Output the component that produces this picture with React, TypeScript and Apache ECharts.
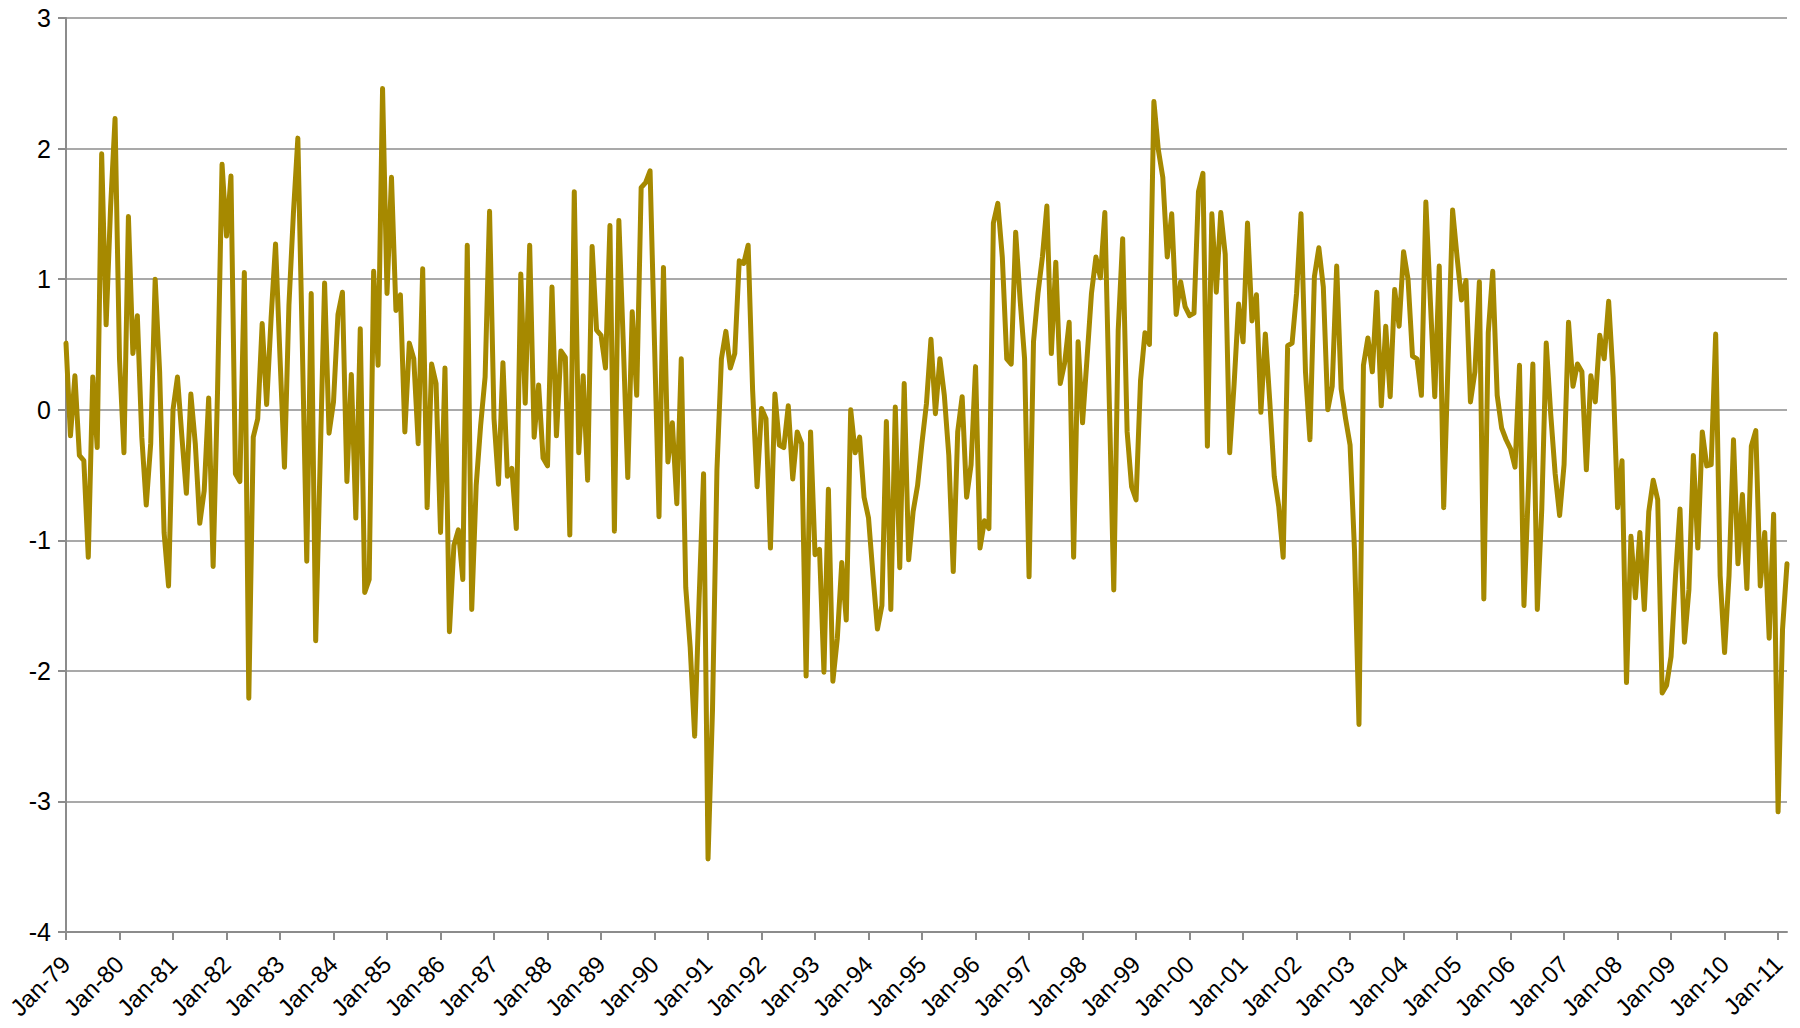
import React, { useEffect, useRef } from "react";
import * as echarts from "echarts";

const MONTHS = ["Jan", "Feb", "Mar", "Apr", "May", "Jun", "Jul", "Aug", "Sep", "Oct", "Nov", "Dec"];
const START_YEAR = 1979;
const Y_TICKS = [-4, -3, -2, -1, 0, 1, 2, 3];

// Monthly values, one row per year (Jan..Dec), Jan-79 .. Mar-11
const values: number[] = [
  0.51, -0.20, 0.26, -0.35, -0.39, -1.13, 0.25, -0.29, 1.96, 0.65, 1.55, 2.23, // 1979
  0.39, -0.33, 1.48, 0.43, 0.72, -0.21, -0.73, -0.26, 1.00, 0.29, -0.94, -1.35, // 1980
  0.00, 0.25, -0.21, -0.64, 0.12, -0.26, -0.87, -0.62, 0.09, -1.20, 0.16, 1.88, // 1981
  1.33, 1.79, -0.49, -0.55, 1.05, -2.21, -0.21, -0.07, 0.66, 0.04, 0.70, 1.27, // 1982
  0.40, -0.44, 0.80, 1.50, 2.08, 0.50, -1.16, 0.89, -1.77, -0.40, 0.97, -0.18, // 1983
  0.06, 0.73, 0.90, -0.55, 0.27, -0.83, 0.62, -1.40, -1.30, 1.06, 0.34, 2.46, // 1984
  0.89, 1.78, 0.76, 0.88, -0.17, 0.51, 0.39, -0.26, 1.08, -0.75, 0.35, 0.20, // 1985
  -0.94, 0.32, -1.70, -1.04, -0.92, -1.30, 1.26, -1.53, -0.58, -0.12, 0.25, 1.52, // 1986
  -0.07, -0.57, 0.36, -0.51, -0.45, -0.91, 1.04, 0.05, 1.26, -0.21, 0.19, -0.37, // 1987
  -0.43, 0.94, -0.20, 0.45, 0.40, -0.96, 1.67, -0.33, 0.26, -0.54, 1.25, 0.61, // 1988
  0.57, 0.32, 1.41, -0.93, 1.45, 0.50, -0.52, 0.75, 0.11, 1.70, 1.74, 1.83, // 1989
  0.50, -0.82, 1.09, -0.40, -0.10, -0.72, 0.39, -1.36, -1.82, -2.50, -1.45, -0.49, // 1990
  -3.44, -2.30, -0.46, 0.39, 0.60, 0.32, 0.43, 1.14, 1.12, 1.26, 0.15, -0.59, // 1991
  0.01, -0.07, -1.06, 0.12, -0.27, -0.29, 0.03, -0.53, -0.17, -0.26, -2.04, -0.17, // 1992
  -1.11, -1.07, -2.01, -0.61, -2.08, -1.75, -1.17, -1.61, 0.00, -0.33, -0.21, -0.67, // 1993
  -0.83, -1.27, -1.68, -1.50, -0.09, -1.53, 0.02, -1.21, 0.20, -1.15, -0.78, -0.58, // 1994
  -0.25, 0.05, 0.54, -0.03, 0.39, 0.11, -0.35, -1.24, -0.17, 0.10, -0.67, -0.42, // 1995
  0.33, -1.06, -0.85, -0.91, 1.43, 1.58, 1.17, 0.39, 0.35, 1.36, 0.84, 0.39, // 1996
  -1.28, 0.52, 0.89, 1.17, 1.56, 0.43, 1.13, 0.20, 0.36, 0.67, -1.13, 0.52, // 1997
  -0.10, 0.39, 0.89, 1.17, 1.01, 1.51, 0.06, -1.38, 0.61, 1.31, -0.17, -0.59, // 1998
  -0.69, 0.22, 0.59, 0.50, 2.36, 1.99, 1.78, 1.17, 1.50, 0.73, 0.98, 0.79, // 1999
  0.72, 0.74, 1.67, 1.81, -0.28, 1.50, 0.90, 1.51, 1.19, -0.33, 0.20, 0.81, // 2000
  0.52, 1.43, 0.68, 0.88, -0.02, 0.58, 0.06, -0.51, -0.74, -1.13, 0.49, 0.51, // 2001
  0.89, 1.50, 0.29, -0.23, 1.02, 1.24, 0.94, 0.00, 0.18, 1.10, 0.16, -0.07, // 2002
  -0.27, -1.08, -2.41, 0.34, 0.55, 0.29, 0.90, 0.03, 0.64, 0.10, 0.92, 0.64, // 2003
  1.21, 1.00, 0.41, 0.39, 0.11, 1.59, 0.84, 0.10, 1.10, -0.75, 0.39, 1.53, // 2004
  1.17, 0.84, 0.99, 0.06, 0.29, 0.98, -1.45, 0.59, 1.06, 0.11, -0.14, -0.23, // 2005
  -0.30, -0.44, 0.34, -1.50, -0.60, 0.35, -1.53, -0.76, 0.51, -0.03, -0.49, -0.81, // 2006
  -0.42, 0.67, 0.18, 0.35, 0.29, -0.46, 0.26, 0.06, 0.57, 0.39, 0.83, 0.25, // 2007
  -0.75, -0.39, -2.09, -0.97, -1.44, -0.94, -1.53, -0.78, -0.54, -0.69, -2.17, -2.11, // 2008
  -1.89, -1.27, -0.76, -1.78, -1.38, -0.35, -1.06, -0.17, -0.43, -0.42, 0.58, -1.27, // 2009
  -1.86, -1.27, -0.23, -1.18, -0.65, -1.37, -0.28, -0.16, -1.35, -0.94, -1.75, -0.80, // 2010
  -3.08, -1.68, -1.18, // 2011
];

const categories: string[] = values.map((_, i) => {
  const y = START_YEAR + Math.floor(i / 12);
  return `${MONTHS[i % 12]}-${String(y % 100).padStart(2, "0")}`;
});

export default function App() {
  const ref = useRef<HTMLDivElement>(null);
  useEffect(() => {
    if (!ref.current) return;
    const chart = echarts.init(ref.current, null, { renderer: "svg" });
    chart.setOption({
      animation: false,
      backgroundColor: "#ffffff",
      grid: { left: 66, right: 13, top: 18, bottom: 96, containLabel: false },
      xAxis: {
        type: "category",
        data: categories,
        boundaryGap: false,
        axisLine: { onZero: false, lineStyle: { color: "#8c8c8c", width: 2 } },
        axisTick: { show: true, interval: 11, length: 8, lineStyle: { color: "#8c8c8c", width: 2 } },
        axisLabel: {
          interval: 11,
          rotate: 45,
          color: "#000",
          fontFamily: "Liberation Sans, Arial, sans-serif",
          fontSize: 24,
          margin: 28,
        },
        splitLine: { show: false },
      },
      yAxis: {
        type: "value",
        min: Y_TICKS[0],
        max: Y_TICKS[Y_TICKS.length - 1],
        interval: 1,
        axisLine: { show: true, lineStyle: { color: "#8c8c8c", width: 2 } },
        axisTick: { show: true, length: 8, lineStyle: { color: "#8c8c8c", width: 2 } },
        axisLabel: {
          color: "#000",
          fontFamily: "Liberation Sans, Arial, sans-serif",
          fontSize: 25,
          margin: 15,
        },
        splitLine: { show: true, lineStyle: { color: "#8c8c8c", width: 1.5 } },
      },
      series: [
        {
          type: "line",
          data: values,
          showSymbol: false,
          symbol: "none",
          lineStyle: { color: "#a68900", width: 5, cap: "round", join: "round" },
        },
      ],
    });
    return () => chart.dispose();
  }, []);
  return (
    <div
      ref={ref}
      style={{ position: "fixed", left: 0, top: 0, width: 1800, height: 1028, background: "#fff" }}
    />
  );
}
